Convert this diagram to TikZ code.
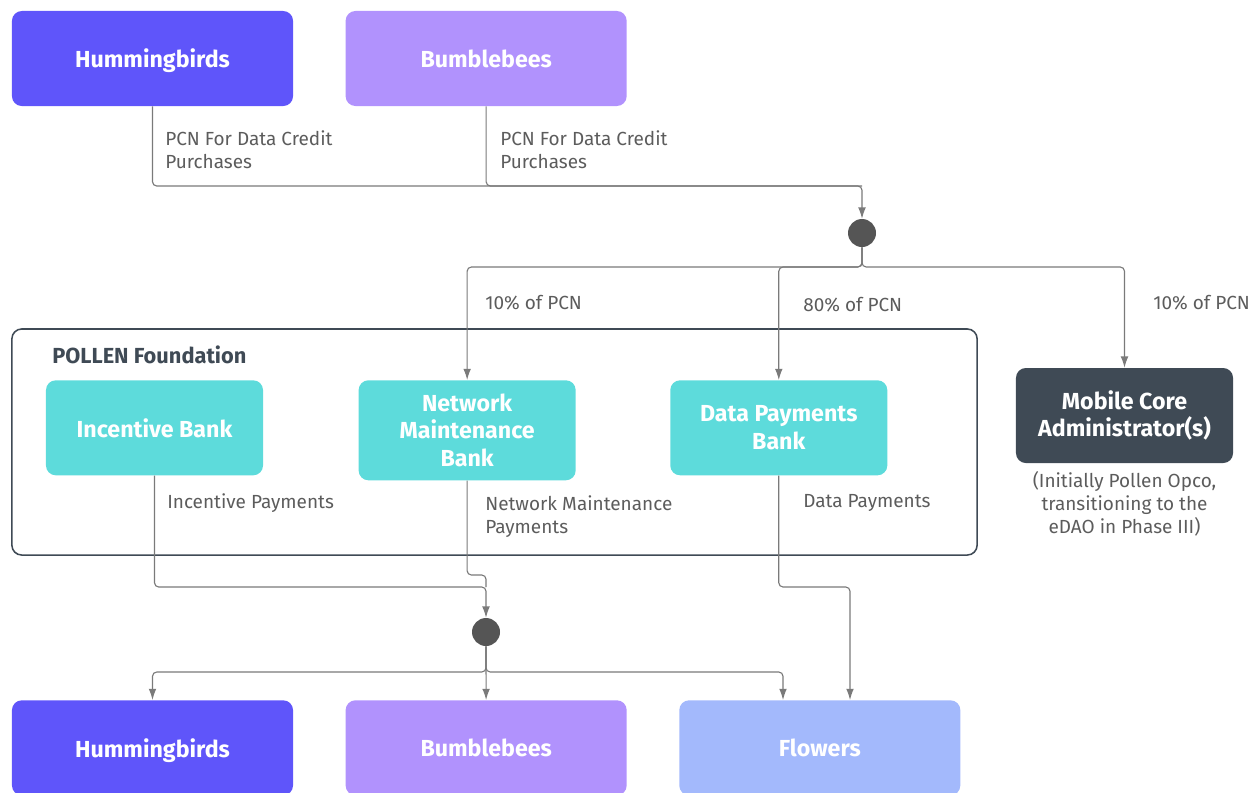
\documentclass[tikz,border=0pt]{standalone}
\usepackage{fontspec}
\setmainfont{Fira Sans}
\usetikzlibrary{positioning,arrows.meta}

\definecolor{hbird}{HTML}{5F55FA}
\definecolor{bbee}{HTML}{B192FD}
\definecolor{flwr}{HTML}{A3B9FC}
\definecolor{bank}{HTML}{5DDBDB}
\definecolor{slate}{HTML}{3F4A55}
\definecolor{wiregray}{HTML}{7A7A7A}
\definecolor{labelgray}{HTML}{5C5C5C}
\definecolor{dotgray}{HTML}{555555}

\tikzset{
  box/.style={rectangle, rounded corners=7pt, text=white, align=center, inner sep=0pt,
    font=\fontsize{16.5}{19.5}\selectfont\bfseries},
  actor/.style={box, minimum width=7.025cm, minimum height=2.375cm, text depth=0pt},
  bankbox/.style={box, fill=bank, minimum width=5.425cm, minimum height=2.375cm},
  frame/.style={draw=slate, line width=1.1pt, rounded corners=7pt, minimum width=24.125cm, minimum height=5.65cm},
  junction/.style={circle, fill=dotgray, minimum size=0.7cm, inner sep=0pt},
  wire/.style={draw=wiregray, line width=0.8pt, rounded corners=3pt},
  flow/.style={wire, -{Latex[length=8pt,width=5.5pt]}},
  lbl/.style={text=labelgray, font=\fontsize{13.5}{16.3}\selectfont, align=left, inner sep=0pt}
}

\begin{document}
\begin{tikzpicture}[x=0.025cm,y=0.025cm]
  \useasboundingbox (0,0) rectangle (1260,-792);
  \clip (0,0) rectangle (1260,-792);

  \node[actor, fill=hbird] (hb1) at (152.5,-58.5) {Hummingbirds};
  \node[actor, fill=bbee, right=1.3cm of hb1] (bb1) {Bumblebees};
  \node[junction] (dot1) at (862,-233) {};

  \node[frame] (found) at (494.5,-442) {};
  \node[anchor=west, inner sep=0pt, text=slate, font=\fontsize{15.5}{18}\selectfont\bfseries] (foundtitle) at (52,-355) {POLLEN Foundation};
  \node[bankbox, anchor=north] (ib) at (154.5,-380) {Incentive Bank};
  \node[bankbox, minimum height=2.5cm, right=2.375cm of ib.north east, anchor=north west] (nmb) {Network\\Maintenance\\Bank};
  \node[bankbox, right=2.35cm of nmb.north east, anchor=north west] (dpb) {Data Payments\\Bank};

  \node[box, fill=slate, minimum width=5.425cm, minimum height=2.375cm] (mca) at (1124.5,-415.5) {Mobile Core\\Administrator(s)};
  \node[lbl, align=center, below=0.2cm of mca] (mcanote) {(Initially Pollen Opco,\\transitioning to the\\eDAO in Phase III)};

  \node[junction] (dot2) at (486,-632) {};
  \node[actor, fill=hbird, anchor=north] (hb2) at (152.5,-700) {Hummingbirds};
  \node[actor, fill=bbee, right=1.3cm of hb2] (bb2) {Bumblebees};
  \node[actor, fill=flwr, right=1.3cm of bb2] (fl) {Flowers};

  \coordinate (j1) at (862,-186);
  \coordinate (s1) at (862,-267);
  \coordinate (k2) at (486,-575);
  \coordinate (j2) at (486,-587);
  \coordinate (j3) at (850,-587);
  \coordinate (s2) at (486,-672);
  \coordinate (f2) at (783,-700);

  \draw[flow] (hb1) |- (j1) -- (dot1);
  \draw[wire] (bb1) |- (j1);
  \draw[flow] (dot1) -- (s1) -| (nmb);
  \draw[flow] (dot1) -- (s1) -| (dpb);
  \draw[flow] (dot1) -- (s1) -| (mca);

  \draw[flow] (ib) |- (j2) -- (dot2);
  \draw[wire] (nmb) |- (k2) -- (j2);
  \draw[flow] (dpb) |- (j3) -- (j3 |- fl.north);
  \draw[flow] (dot2) -- (s2) -| (hb2);
  \draw[flow] (dot2) -- (bb2);
  \draw[flow] (dot2) -- (s2) -| (f2);

  \node[lbl, anchor=north west] (hblbl) at (165,-130) {PCN For Data Credit\\Purchases};
  \node[lbl, anchor=north west] (bblbl) at (500,-130) {PCN For Data Credit\\Purchases};
  \node[lbl, anchor=west] (nmbpct) at (485,-303) {10\% of PCN};
  \node[lbl, anchor=west] (dpbpct) at (803,-305) {80\% of PCN};
  \node[lbl, anchor=west] (mcapct) at (1153,-303) {10\% of PCN};
  \node[lbl, anchor=west] (iblbl) at (167,-503) {Incentive Payments};
  \node[lbl, anchor=north west] (nmblbl) at (485,-495) {Network Maintenance\\Payments};
  \node[lbl, anchor=west] (dpblbl) at (803,-503) {Data Payments};
\end{tikzpicture}
\end{document}
